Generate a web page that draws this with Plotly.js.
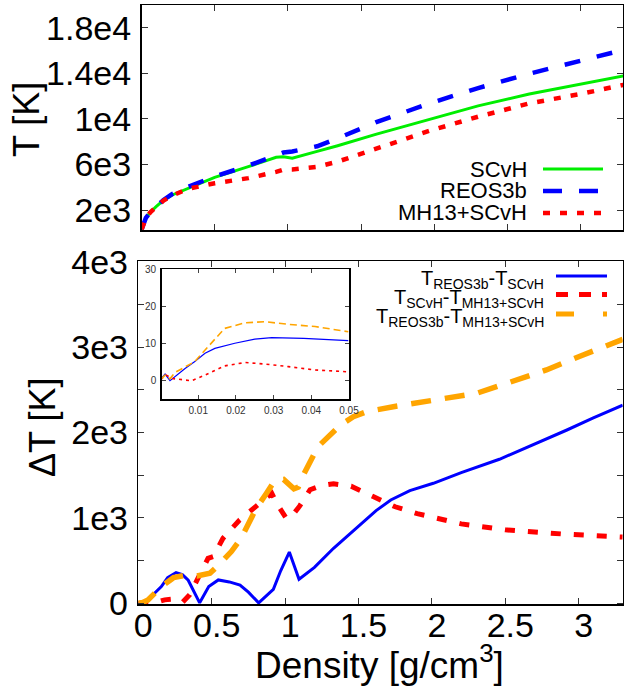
<!DOCTYPE html>
<html>
<head>
<meta charset="utf-8">
<script src="https://cdn.plot.ly/plotly-3.0.1.min.js"></script>
<style>html,body{margin:0;padding:0;background:#fff}#chart{width:624px;height:688px}</style>
</head>
<body>
<div id="chart"></div>
<script>
// ---- Top panel: temperature vs density ----
const densTop = [0.001, 0.01, 0.03, 0.06, 0.1, 0.15, 0.21, 0.32, 0.5, 0.73, 0.92, 0.97, 1.03, 1.2, 1.34, 1.6, 1.97, 2.3, 2.65, 3.0, 3.3];
const tSCvH   = [300, 700, 1300, 1800, 2300, 2850, 3320, 3900, 4870, 5810, 6630, 6680, 6560, 7150, 7650, 8650, 10000, 11150, 12200, 13050, 13800];
const tREOS3b = [300, 705, 1305, 1805, 2310, 2880, 3400, 4050, 4950, 5900, 6800, 7050, 7140, 7600, 8300, 9700, 11380, 12720, 13980, 15100, 16100];
const tMH13   = [300, 700, 1300, 1800, 2300, 2820, 3270, 3870, 4350, 4800, 5350, 5560, 5570, 5800, 6250, 7350, 8970, 10200, 11370, 12200, 13020];
const topTickVals = [2000, 6000, 10000, 14000, 18000];
const topTickText = ["2e3", "6e3", "1e4", "1.4e4", "1.8e4"];

// ---- Bottom panel: temperature differences ----
const densBlue = [0, 0.05, 0.1, 0.157, 0.2, 0.257, 0.3, 0.34, 0.418, 0.48, 0.545, 0.62, 0.693, 0.75, 0.82, 0.92, 0.97, 1.029, 1.095, 1.2, 1.33, 1.5, 1.62, 1.72, 1.85, 2.01, 2.2, 2.46, 2.7, 2.92, 3.1, 3.3];
const dT_REOS_SCvH = [0, 20, 100, 195, 300, 360, 335, 270, 5, 195, 273, 250, 214, 130, 5, 164, 380, 600, 281, 420, 644, 900, 1085, 1210, 1320, 1405, 1530, 1686, 1860, 2029, 2170, 2320];
const densRed = [0, 0.1, 0.18, 0.25, 0.3, 0.35, 0.4, 0.475, 0.51, 0.577, 0.69, 0.8, 0.909, 0.95, 1.01, 1.05, 1.1, 1.17, 1.25, 1.33, 1.45, 1.6, 1.75, 1.9, 2.2, 2.5, 2.9, 3.3];
const dT_SCvH_MH13 = [0, 0, 40, 50, 10, 100, 270, 527, 546, 761, 975, 1125, 1288, 1150, 990, 1030, 1140, 1330, 1380, 1400, 1370, 1250, 1130, 1050, 930, 860, 810, 775];
const densOrange = [0, 0.03, 0.066, 0.157, 0.24, 0.33, 0.4, 0.488, 0.56, 0.634, 0.7, 0.8, 0.87, 0.93, 0.99, 1.06, 1.09, 1.13, 1.224, 1.283, 1.38, 1.465, 1.556, 1.737, 2.01, 2.305, 2.51, 2.78, 3.03, 3.3];
const dT_REOS_MH13 = [0, 10, 39, 195, 300, 331, 320, 351, 470, 605, 761, 1100, 1280, 1440, 1450, 1340, 1360, 1520, 1834, 1932, 2090, 2185, 2244, 2302, 2370, 2459, 2576, 2732, 2908, 3090];
const botTickVals = [0, 500, 1000, 1500, 2000, 2500, 3000, 3500, 4000];
const botTickText = ["0", "", "1e3", "", "2e3", "", "3e3", "", "4e3"];
const xTickVals = [0, 0.5, 1, 1.5, 2, 2.5, 3];
const xTickText = ["0", "0.5", "1", "1.5", "2", "2.5", "3"];

// ---- Inset: low-density zoom ----
const insDensBlue = [0, 0.0012, 0.0025, 0.0038, 0.0065, 0.009, 0.0118, 0.0144, 0.0197, 0.025, 0.0295, 0.038, 0.0498];
const insBlue     = [0.3, 1.8, 0, 1.1, 3.3, 5.1, 7.4, 8.7, 10.1, 11.2, 11.6, 11.4, 10.8];
const insDensOrange = [0, 0.0012, 0.0025, 0.0038, 0.009, 0.0118, 0.017, 0.0224, 0.0277, 0.0339, 0.041, 0.0498];
const insOrange     = [0.3, 1.5, 0.5, 2.2, 5.1, 8.3, 14.1, 15.6, 15.9, 15.2, 14.6, 13.2];
const insDensRed = [0, 0.0015, 0.003, 0.0082, 0.0118, 0.017, 0.0224, 0.0277, 0.0339, 0.041, 0.0498];
const insRed     = [0.3, 1.5, 0.6, 0, 1.5, 4.0, 4.9, 4.5, 3.8, 2.9, 2.4];
const insXTickVals = [0.01, 0.02, 0.03, 0.04, 0.05];
const insXTickText = ["0.01", "0.02", "0.03", "0.04", "0.05"];
const insYTickVals = [0, 10, 20, 30];
const insYTickText = ["0", "10", "20", "30"];

const topLegend = ["SCvH", "REOS3b", "MH13+SCvH"];
const botLegend = ["T<sub>REOS3b</sub>-T<sub>SCvH</sub>", "T<sub>SCvH</sub>-T<sub>MH13+SCvH</sub>", "T<sub>REOS3b</sub>-T<sub>MH13+SCvH</sub>"];

const W = 624, H = 688;
const px = v => v / W;
const py = v => (H - v) / H;

const GREEN = '#00ee00', BLUE = '#0000ff', RED = '#ff0000', ORANGE = '#ffa500';
const FONT = 'Liberation Sans, Arial, sans-serif';

const traces = [
  {x: densTop, y: tSCvH, xaxis: 'x2', yaxis: 'y2', mode: 'lines', line: {color: GREEN, width: 3}},
  {x: densTop, y: tREOS3b, xaxis: 'x2', yaxis: 'y2', mode: 'lines', line: {color: BLUE, width: 4.5, dash: '16px,17px'}},
  {x: densTop, y: tMH13, xaxis: 'x2', yaxis: 'y2', mode: 'lines', line: {color: RED, width: 4.5, dash: '7px,10px'}},
  {x: densBlue, y: dT_REOS_SCvH, xaxis: 'x', yaxis: 'y', mode: 'lines', line: {color: BLUE, width: 3}},
  {x: densRed, y: dT_SCvH_MH13, xaxis: 'x', yaxis: 'y', mode: 'lines', line: {color: RED, width: 5, dash: '10px,13px'}},
  {x: densOrange, y: dT_REOS_MH13, xaxis: 'x', yaxis: 'y', mode: 'lines', line: {color: ORANGE, width: 5.5, dash: '20px,14px'}},
  {x: insDensBlue, y: insBlue, xaxis: 'x3', yaxis: 'y3', mode: 'lines', line: {color: BLUE, width: 1.2}},
  {x: insDensRed, y: insRed, xaxis: 'x3', yaxis: 'y3', mode: 'lines', line: {color: RED, width: 1.6, dash: '3px,4px'}},
  {x: insDensOrange, y: insOrange, xaxis: 'x3', yaxis: 'y3', mode: 'lines', line: {color: ORANGE, width: 1.6, dash: '7px,4px'}}
];

const mainAxis = {
  showline: true, linecolor: '#000', linewidth: 1.5, mirror: 'ticks',
  ticks: 'inside', ticklen: 6, tickwidth: 1, tickcolor: '#333',
  showgrid: false, zeroline: false, tickmode: 'array',
  tickfont: {family: FONT, size: 34, color: '#000'}
};

const layout = {
  width: W, height: H,
  margin: {l: 0, r: 0, t: 0, b: 0},
  paper_bgcolor: '#fff', plot_bgcolor: 'rgba(0,0,0,0)',
  showlegend: false,
  font: {family: FONT, color: '#000'},
  xaxis: Object.assign({}, mainAxis, {
    domain: [px(138.3), px(622.7)], anchor: 'y', range: [0, 3.3],
    tickvals: xTickVals, ticktext: xTickText, ticklabelstandoff: -10, ticklabelshift: 5
  }),
  yaxis: Object.assign({}, mainAxis, {
    domain: [py(604.3), py(261)], anchor: 'x', range: [-12, 4008],
    tickvals: botTickVals, ticktext: botTickText, ticklabelstandoff: 2
  }),
  xaxis2: Object.assign({}, mainAxis, {
    domain: [px(141.5), px(623)], anchor: 'y2', range: [0, 3.29],
    tickvals: xTickVals, showticklabels: false
  }),
  yaxis2: Object.assign({}, mainAxis, {
    domain: [py(230), py(5)], anchor: 'x2', range: [242, 20020],
    tickvals: topTickVals, ticktext: topTickText, ticklabelstandoff: 2
  }),
  xaxis3: {
    domain: [px(161.7), px(349)], anchor: 'y3', range: [0.0003, 0.05],
    showline: true, linecolor: '#000', linewidth: 1.5, mirror: 'ticks',
    ticks: 'inside', ticklen: 4, tickcolor: '#444', showgrid: false, zeroline: false,
    tickmode: 'array', tickvals: insXTickVals, ticktext: insXTickText,
    tickfont: {family: FONT, size: 10, color: '#333'}, ticklabelstandoff: 1
  },
  yaxis3: {
    domain: [py(399), py(269.3)], anchor: 'x3', range: [-4.93, 30.03],
    showline: true, linecolor: '#000', linewidth: 1.5, mirror: 'ticks',
    ticks: 'inside', ticklen: 4, tickcolor: '#444', showgrid: false, zeroline: false,
    tickmode: 'array', tickvals: insYTickVals, ticktext: insYTickText,
    tickfont: {family: FONT, size: 10, color: '#333'}, ticklabelstandoff: 2
  },
  annotations: [
    {text: 'T [K]', xref: 'paper', yref: 'paper', x: px(27), y: py(120), xanchor: 'center', yanchor: 'middle', textangle: -90, showarrow: false, font: {family: FONT, size: 36, color: '#000'}},
    {text: '\u0394T [K]', xref: 'paper', yref: 'paper', x: px(42), y: py(428), xanchor: 'center', yanchor: 'middle', textangle: -90, showarrow: false, font: {family: FONT, size: 36, color: '#000'}},
    {text: 'Density [g/cm<sup>3</sup>]', xref: 'paper', yref: 'paper', x: px(380), y: py(662), xanchor: 'center', yanchor: 'middle', showarrow: false, font: {family: FONT, size: 37, color: '#000'}},
    {text: topLegend[0], xref: 'paper', yref: 'paper', x: px(529), y: py(169), xanchor: 'right', yanchor: 'middle', showarrow: false, font: {family: FONT, size: 22, color: '#000'}},
    {text: topLegend[1], xref: 'paper', yref: 'paper', x: px(529), y: py(190.5), xanchor: 'right', yanchor: 'middle', showarrow: false, font: {family: FONT, size: 22, color: '#000'}},
    {text: topLegend[2], xref: 'paper', yref: 'paper', x: px(529), y: py(212), xanchor: 'right', yanchor: 'middle', showarrow: false, font: {family: FONT, size: 22, color: '#000'}},
    {text: botLegend[0], xref: 'paper', yref: 'paper', x: px(546), y: py(279), xanchor: 'right', yanchor: 'middle', showarrow: false, font: {family: FONT, size: 20, color: '#000'}},
    {text: botLegend[1], xref: 'paper', yref: 'paper', x: px(546), y: py(298), xanchor: 'right', yanchor: 'middle', showarrow: false, font: {family: FONT, size: 20, color: '#000'}},
    {text: botLegend[2], xref: 'paper', yref: 'paper', x: px(546), y: py(317), xanchor: 'right', yanchor: 'middle', showarrow: false, font: {family: FONT, size: 20, color: '#000'}}
  ],
  shapes: [
    {type: 'line', xref: 'paper', yref: 'paper', x0: px(543), x1: px(603), y0: py(169), y1: py(169), line: {color: GREEN, width: 3}},
    {type: 'line', xref: 'paper', yref: 'paper', x0: px(543), x1: px(603), y0: py(191), y1: py(191), line: {color: BLUE, width: 4.5, dash: '19px,17px'}},
    {type: 'line', xref: 'paper', yref: 'paper', x0: px(543), x1: px(603), y0: py(213), y1: py(213), line: {color: RED, width: 4.5, dash: '7px,10px'}},
    {type: 'line', xref: 'paper', yref: 'paper', x0: px(556), x1: px(607), y0: py(276), y1: py(276), line: {color: BLUE, width: 3}},
    {type: 'line', xref: 'paper', yref: 'paper', x0: px(556), x1: px(607), y0: py(294.5), y1: py(294.5), line: {color: RED, width: 5, dash: '12px,11px'}},
    {type: 'line', xref: 'paper', yref: 'paper', x0: px(556), x1: px(607), y0: py(314), y1: py(314), line: {color: ORANGE, width: 5, dash: '18px,29px'}}
  ]
};

Plotly.newPlot('chart', traces, layout, {staticPlot: true, displayModeBar: false});
</script>
</body>
</html>
